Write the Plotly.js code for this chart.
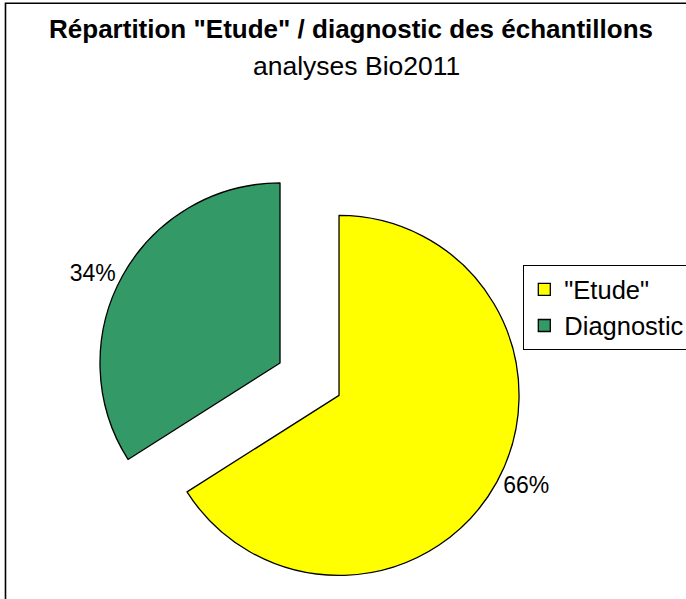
<!DOCTYPE html>
<html>
<head>
<meta charset="utf-8">
<script src="https://cdn.plot.ly/plotly-3.0.1.min.js"></script>
<style>html,body{margin:0;padding:0;background:#fff;}#chart{width:686px;height:599px;}</style>
</head>
<body>
<div id="chart"></div>
<script>
const categories = ['"Etude"', 'Diagnostic'];
const values = [66, 34];
const sliceColors = ['#FFFF00', '#339966'];
const pulls = [0.187, 0.187];

const trace = {
  type: 'pie',
  labels: categories,
  values: values,
  sort: false,
  direction: 'clockwise',
  rotation: 0,
  pull: pulls,
  marker: { colors: sliceColors, line: { color: '#000000', width: 1.3 } },
  textinfo: 'percent',
  texttemplate: '%{percent:.0%}',
  textposition: 'outside',
  outsidetextfont: { family: 'Liberation Sans, Arial, sans-serif', size: 23, color: '#000' },
  domain: { x: [0.1397, 0.7627], y: [0.0102, 0.7237] },
  automargin: false,
  hoverinfo: 'label+percent'
};

const layout = {
  width: 686,
  height: 599,
  margin: { l: 0, r: 0, t: 0, b: 0, autoexpand: false },
  paper_bgcolor: '#ffffff',
  plot_bgcolor: '#ffffff',
  font: { family: 'Liberation Sans, Arial, sans-serif', color: '#000' },
  title: {
    text: '<b>Répartition "Etude" / diagnostic des échantillons</b>',
    font: { family: 'Liberation Sans, Arial, sans-serif', size: 26, color: '#000' },
    x: 0.5117, xanchor: 'center',
    y: 0.9516, yanchor: 'middle'
  },
  annotations: [{
    text: 'analyses Bio2011',
    xref: 'paper', yref: 'paper',
    x: 0.5204, y: 0.8898, xanchor: 'center', yanchor: 'middle',
    showarrow: false,
    font: { family: 'Liberation Sans, Arial, sans-serif', size: 26.5, color: '#000' }
  }],
  showlegend: true,
  legend: {
    x: 0.7624, xanchor: 'left',
    y: 0.5576, yanchor: 'top',
    bordercolor: '#000', borderwidth: 1.3,
    bgcolor: '#ffffff',
    font: { family: 'Liberation Sans, Arial, sans-serif', size: 25.5, color: '#000' },
    traceorder: 'normal'
  },
  shapes: [{
    type: 'rect', xref: 'paper', yref: 'paper',
    x0: 0.008, x1: 1.05, y0: -0.05, y1: 0.9945,
    line: { color: '#000', width: 1.6 },
    fillcolor: 'rgba(0,0,0,0)',
    layer: 'below'
  }]
};

Plotly.newPlot('chart', [trace], layout, { displayModeBar: false, staticPlot: true });
</script>
</body>
</html>
